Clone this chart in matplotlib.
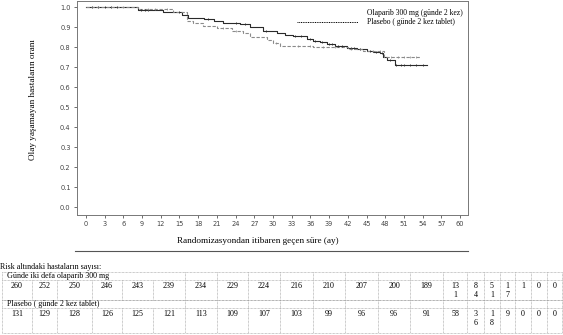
import numpy as np
import matplotlib.pyplot as plt
from matplotlib.lines import Line2D

# Kaplan-Meier step estimates (months, survival proportion)
ola_t = [0, 8.3, 12.4, 15.4, 16.4, 19.0, 20.5, 22.0, 24.7, 26.3, 28.4, 30.6, 32.0,
         33.2, 35.5, 36.4, 37.5, 38.7, 40.0, 41.9, 43.5, 45.1, 46.0, 47.2, 47.7,
         48.3, 49.6]
ola_s = [1.0, 0.985, 0.975, 0.96, 0.945, 0.94, 0.93, 0.92, 0.915, 0.90, 0.88, 0.87,
         0.86, 0.855, 0.84, 0.83, 0.825, 0.815, 0.805, 0.795, 0.79, 0.78, 0.775,
         0.77, 0.75, 0.735, 0.71]
ola_end = 54.7

pla_t = [0, 8.3, 14.0, 16.2, 17.2, 18.8, 21.0, 23.4, 25.2, 26.3, 29.0, 30.0, 31.1,
         36.4, 42.0, 44.5, 47.8]
pla_s = [1.0, 0.99, 0.975, 0.93, 0.92, 0.905, 0.895, 0.88, 0.87, 0.85, 0.835, 0.82,
         0.805, 0.80, 0.79, 0.78, 0.75]
pla_end = 53.8

# censoring times
ola_cens = [1, 2, 3, 4, 5, 8.8, 9.5, 10, 15, 19.5, 24, 25.5, 28.8, 33.5, 34.5, 36,
            36.8, 37.8, 39, 39.5, 40.5, 41, 42.5, 43, 44, 45.5, 46.5, 47.5, 48.8,
            49.8, 50.5, 51, 52, 53, 54]
pla_cens = [1, 2, 4, 6, 10, 11, 13, 22, 24, 30.5, 34, 36, 38, 40, 42.5, 44, 46,
            47.2, 49, 50, 51, 52, 53]

xticks = list(range(0, 61, 3))
yticks = [0.0, 0.1, 0.2, 0.3, 0.4, 0.5, 0.6, 0.7, 0.8, 0.9, 1.0]

# numbers at risk table
risk_title = "Risk altındaki hastaların sayısı:"
ola_label = "Günde iki defa olaparib 300 mg"
pla_label = "Plasebo ( günde 2 kez tablet)"
ola_risk = [260, 252, 250, 246, 243, 239, 234, 229, 224, 216, 210, 207, 200, 189,
            131, 84, 51, 17, 1, 0, 0]
pla_risk = [131, 129, 128, 126, 125, 121, 113, 109, 107, 103, 99, 96, 96, 91,
            58, 36, 18, 9, 0, 0, 0]
col_edges = [2, 32, 57, 92, 122, 153, 185, 217, 248, 280, 313, 345, 378, 410, 443,
             467, 484, 500, 515, 531, 547, 562]

W, H = 563, 335
fig = plt.figure(figsize=(W / 100, H / 100), dpi=100)
serif = ['Liberation Serif', 'DejaVu Serif']


def fx(px):
    return px / W


def fy(py):
    return 1 - py / H


ax = fig.add_axes([fx(77), fy(215), fx(468) - fx(77), fy(1) - fy(215)])


def km_xy(t, s, end):
    x = list(t) + [end]
    y = list(s) + [s[-1]]
    return x, y


def surv_at(t, s, times):
    idx = np.searchsorted(t, times, side='right') - 1
    return np.asarray(s)[idx]


x, y = km_xy(ola_t, ola_s, ola_end)
ax.step(x, y, where='post', color='#2a2a2a', lw=0.8)
x, y = km_xy(pla_t, pla_s, pla_end)
ax.step(x, y, where='post', color='#8a8a8a', lw=0.8, dashes=(3, 1.5))

ax.plot(ola_cens, surv_at(ola_t, ola_s, ola_cens), ls='none', marker='|',
        ms=1.6, mew=0.6, color='#2a2a2a')
ax.plot(pla_cens, surv_at(pla_t, pla_s, pla_cens), ls='none', marker='|',
        ms=1.6, mew=0.5, color='#8a8a8a')

ax.set_xlim(-1.44, 61.28)
ax.set_ylim(-0.0385, 1.0315)
ax.set_xticks(xticks)
ax.set_yticks(yticks)
ax.set_yticklabels([f"{v:.1f}" for v in yticks])
ax.tick_params(labelsize=4.8, colors='#555555', length=2.5, width=0.6, pad=2)
for lab in ax.get_xticklabels() + ax.get_yticklabels():
    lab.set_color('#444444')
for sp in ax.spines.values():
    sp.set_color('#777777')
    sp.set_linewidth(0.7)

# legend block
fig.add_artist(Line2D([fx(297), fx(358)], [fy(21.5), fy(21.5)], color='black',
                      lw=0.7, ls=(0, (1, 0.8))))
fig.text(fx(367), fy(13), "Olaparib 300 mg (günde 2 kez)", family=serif,
         fontsize=5.5, va='center', ha='left')
fig.text(fx(367), fy(21.5), "Plasebo ( günde 2 kez tablet)", family=serif,
         fontsize=5.5, va='center', ha='left')

fig.text(fx(33), fy(100), "Olay yaşamayan hastaların oranı", family=serif,
         fontsize=6.6, rotation=90, ha='center', va='center')
fig.text(fx(258), fy(241), "Randomizasyondan itibaren geçen süre (ay)",
         family=serif, fontsize=6.6, ha='center', va='center')
fig.add_artist(Line2D([fx(75), fx(468)], [fy(251), fy(251)], color='#555555',
                      lw=0.8))

# at-risk table
grid = dict(color='#9a9a9a', lw=0.5, ls=(0, (1, 1)))
fig.text(fx(0), fy(267), risk_title, family=serif, fontsize=5.8, va='center')

rows = [(ola_label, ola_risk, 272, 280, 300), (pla_label, pla_risk, 300, 308, 333)]
for label, vals, top, mid, bot in rows:
    fig.add_artist(Line2D([fx(2), fx(562)], [fy(top), fy(top)], **grid))
    fig.add_artist(Line2D([fx(2), fx(562)], [fy(mid), fy(mid)], **grid))
    fig.add_artist(Line2D([fx(2), fx(562)], [fy(bot), fy(bot)], **grid))
    fig.text(fx(7), fy((top + mid) / 2 + 0.5), label, family=serif,
             fontsize=5.8, va='center')
    for e in col_edges:
        fig.add_artist(Line2D([fx(e), fx(e)], [fy(mid), fy(bot)], **grid))
    for e in [2] + [c for c in col_edges if c >= 185]:
        fig.add_artist(Line2D([fx(e), fx(e)], [fy(top), fy(mid)], **grid))
    for i, v in enumerate(vals):
        left, right = col_edges[i], col_edges[i + 1]
        width = right - left
        per = 3 if width >= 25 else (2 if width >= 20 else 1)
        s = str(v)
        s = "\n".join(s[k:k + per] for k in range(0, len(s), per))
        fig.text(fx((left + right) / 2), fy(mid + 2), s, family=serif,
                 fontsize=5.8, ha='center', va='top', linespacing=1.2)

fig.savefig("out.png", dpi=100)
